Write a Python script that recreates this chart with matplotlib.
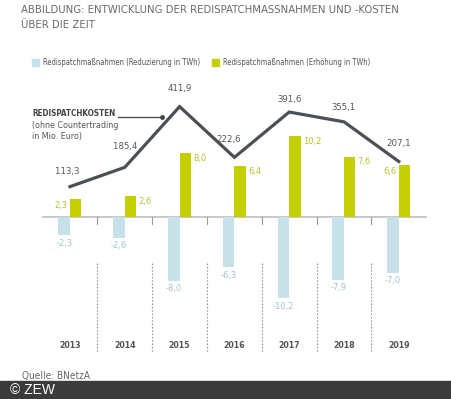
import matplotlib
matplotlib.use("Agg")
import matplotlib.pyplot as plt
import numpy as np

plt.rcParams['font.family'] = ['DejaVu Sans']
plt.rcParams['font.stretch'] = 'condensed'

# Daten
jahre = ["2013", "2014", "2015", "2016", "2017", "2018", "2019"]
reduzierung = [-2.3, -2.6, -8.0, -6.3, -10.2, -7.9, -7.0]   # TWh
erhoehung = [2.3, 2.6, 8.0, 6.4, 10.2, 7.6, 6.6]             # TWh
kosten = [113.3, 185.4, 411.9, 222.6, 391.6, 355.1, 207.1]   # Mio. Euro

def de(v):
    return f"{v:.1f}".replace(".", ",")

W, H = 452, 399
fig = plt.figure(figsize=(W / 100, H / 100), dpi=100)
ax = fig.add_axes([0, 0, 1, 1])

# Pixel-Massstab: Null-Linie bei y=217px, 7.95 px pro TWh, Gruppenabstand 54.8 px
px_twh = 7.95
y0 = 217
x0, dx = 70, 54.8
ax.set_ylim(-(H - y0) / px_twh, y0 / px_twh)
ax.set_xlim(-x0 / dx, (W - x0) / dx)
ax.axis("off")

blau = "#c6e1e7"
gruen = "#c3cf00"
grau_linie = "#4b5056"

x = np.arange(len(jahre))
bw = 11.5 / dx
ax.bar(x - bw / 2, reduzierung, width=bw, color=blau, zorder=2)
ax.bar(x + bw / 2, erhoehung, width=bw, color=gruen, zorder=2)
ax.axhline(0, xmin=43 / W, xmax=426 / W, color="#c4c4c4", lw=1.3, zorder=1)

# kleine Ticks und gestrichelte Trenner
for i in range(len(jahre) - 1):
    xb = i + 0.5
    ax.plot([xb, xb], [0, -7 / px_twh], color="#999999", lw=0.8, zorder=1)
    ax.plot([xb, xb], [-(263 - y0) / px_twh, -(352 - y0) / px_twh],
            color="#999999", lw=0.8, ls=(0, (1.5, 1.5)), zorder=1)

# Werte der Balken
for i, v in enumerate(erhoehung):
    if i in (0, 6):
        ax.annotate(de(v), (i, v), xytext=(-1.5, -1.5), textcoords="offset points",
                    ha="right", va="top", color="#b6c22c", fontsize=6.7)
    else:
        ax.annotate(de(v), (i + bw, v), xytext=(1.5, -0.5), textcoords="offset points",
                    ha="left", va="top", color="#b6c22c", fontsize=6.7)
for i, v in enumerate(reduzierung):
    ax.annotate(de(v), (i - bw / 2, v), xytext=(0, -2.5), textcoords="offset points",
                ha="center", va="top", color="#9fc6cf", fontsize=6.7)

# Jahre
for i, j in enumerate(jahre):
    ax.text(i, -(346 - y0) / px_twh, j, ha="center", va="center",
            color="#555555", fontsize=6.3, fontweight="bold")

# Kostenlinie auf zweiter Achse mit gleicher Null
ax2 = ax.twinx()
px_eur = 0.268
ax2.set_ylim(-(H - y0) / px_eur, y0 / px_eur)
ax2.axis("off")
ax2.plot(x, kosten, color=grau_linie, lw=2.3, solid_joinstyle="miter", zorder=3)
lab_off = [11, 15, 13, 13, 9, 10, 13]
lab_dx = [-2, 0, 0, -4, 0, 0, 0]
for i, v in enumerate(kosten):
    ax2.annotate(de(v), (i, v), xytext=(lab_dx[i], lab_off[i]), textcoords="offset points",
                 ha="center", va="center", color="#555555", fontsize=6.8)

# Beschriftung der Linie
fig.text(32 / W, 1 - 113 / H, "REDISPATCHKOSTEN", fontsize=5.9, fontweight="bold",
         color="#444444", va="center")
fig.text(32 / W, 1 - 125.5 / H, "(ohne Countertrading", fontsize=6.4, color="#555555", va="center")
fig.text(32 / W, 1 - 136.5 / H, "in Mio. Euro)", fontsize=6.4, color="#555555", va="center")
fig.lines.append(plt.Line2D([118 / W, 162 / W], [1 - 117 / H, 1 - 117 / H],
                            transform=fig.transFigure, color="#444444", lw=0.9))
fig.lines.append(plt.Line2D([162 / W], [1 - 117 / H], transform=fig.transFigure,
                            marker="o", ms=2.5, color="#444444"))

# Titel
fig.text(21 / W, 1 - 10 / H, "ABBILDUNG: ENTWICKLUNG DER REDISPATCHMASSNAHMEN UND -KOSTEN",
         fontsize=8.1, color="#6a6a6a", va="center")
fig.text(21 / W, 1 - 25.5 / H, "ÜBER DIE ZEIT", fontsize=8.1, color="#6a6a6a", va="center")

# Legende
for xl, txt, c in [(32, "Redispatchmaßnahmen (Reduzierung in TWh)", blau),
                   (212, "Redispatchmaßnahmen (Erhöhung in TWh)", gruen)]:
    fig.patches.append(plt.Rectangle((xl / W, 1 - 66 / H), 7 / W, 7 / H,
                                     transform=fig.transFigure, color=c))
    fig.text((xl + 11) / W, 1 - 62.8 / H, txt, fontsize=5.5, color="#555555", va="center")

# Quelle und Fussleiste
fig.text(22 / W, 1 - 375.5 / H, "Quelle: BNetzA", fontsize=7.2, color="#666666", va="center")
fig.patches.append(plt.Rectangle((0, 0), 1, 18 / H, transform=fig.transFigure,
                                 color="#3b3b3b", zorder=5))
fig.text(10 / W, 9 / H, "© ZEW", fontsize=10, color="white", va="center",
         family=["Liberation Sans", "DejaVu Sans"], stretch="normal", zorder=6)

fig.savefig("out.png", dpi=100)
